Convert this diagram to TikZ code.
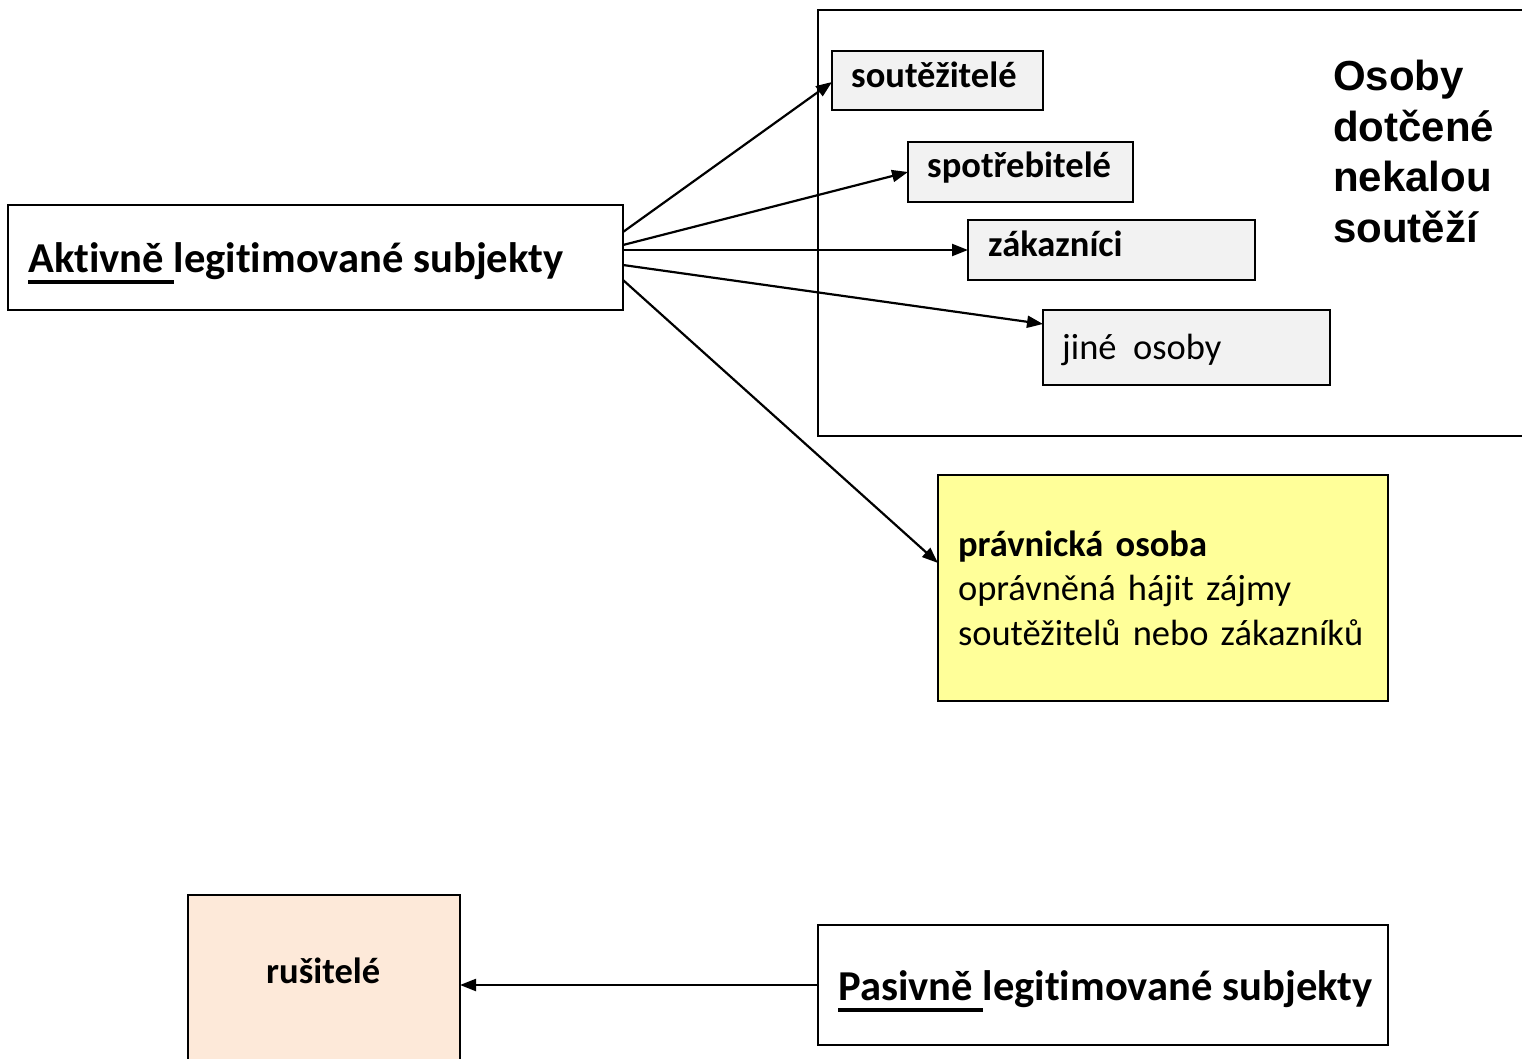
\documentclass[tikz,border=0pt]{standalone}
\usepackage{fontspec}
\setmainfont{Carlito}[Ligatures=NoCommon,RawFeature=-liga]
\newfontfamily\arialf{Liberation Sans}
\usetikzlibrary{arrows.meta,calc}
\newcommand\myul[1]{\setbox0\hbox{#1}\rlap{\rule[-12pt]{\wd0}{4pt}}\box0}
\definecolor{gb}{HTML}{F2F2F2}
\definecolor{yb}{HTML}{FFFF99}
\definecolor{pb}{HTML}{FDE9D9}
\begin{document}
\begin{tikzpicture}[x=1pt,y=-1pt,
  box/.style={draw, line width=2.2pt, inner sep=0pt, outer sep=0pt},
  txt/.style={anchor=base west, inner sep=0pt, font=\fontsize{36.5}{44.5}\selectfont},
  btxt/.style={txt, font=\fontsize{36.5}{44.5}\selectfont\bfseries},
  bigtxt/.style={anchor=base west, inner sep=0pt, font=\fontsize{42.6}{50}\selectfont\bfseries},
  arr/.style={line width=2.2pt, -{Triangle[length=16pt,width=12pt]}}]
\useasboundingbox (0,0) rectangle (1522,1058);
\fill[white] (0,0) rectangle (1522,1058);
% frame
\node[box, line width=1.6pt, minimum width=712pt, minimum height=426pt] (frame) at (1174,223) {};
% right boxes
\node[box, fill=gb, minimum width=211pt, minimum height=59pt] (sout) at (937.5,80.5) {};
\node[btxt] (souttext) at (851,87) {soutěžitelé};
\node[box, fill=gb, minimum width=225pt, minimum height=60pt] (spot) at (1020.5,172) {};
\node[btxt] (spottext) at (927,177) {spotřebitelé};
\node[box, fill=gb, minimum width=287pt, minimum height=60pt] (zak) at (1111.5,250) {};
\node[btxt] (zaktext) at (988,256) {zákazníci};
\node[box, fill=gb, minimum width=287pt, minimum height=75pt] (jine) at (1186.5,347.5) {};
\node[txt] (jinetext) at (1062,359) {jiné\ \ osoby};
\node[anchor=north west, inner sep=0pt, align=left, font=\fontsize{42}{50.5}\selectfont\arialf\bfseries] (osoby) at (1333,60) {Osoby\\dotčené\\nekalou\\soutěží};
% yellow box
\node[box, fill=yb, minimum width=450pt, minimum height=226pt, text width=410pt, inner xsep=20pt, align=left, font=\fontsize{36.5}{44.5}\selectfont] (prav) at (1163,588) {\textbf{právnická osoba}\\oprávněná hájit zájmy\\soutěžitelů nebo zákazníků};
% left box
\node[box, fill=white, minimum width=615pt, minimum height=105pt] (akt) at (315.5,257.5) {};
\node[bigtxt] (akttext) at (28,272) {\myul{Aktivně\ }legitimované subjekty};
% bottom
\node[box, fill=pb, minimum width=272pt, minimum height=175pt] (rus) at (324,982.5) {};
\node[btxt] (rustext) at (266,983) {rušitelé};
\node[box, fill=white, minimum width=570pt, minimum height=120pt] (pas) at (1103,985) {};
\node[bigtxt] (pastext) at (838,1000) {\myul{Pasivně\ }legitimované subjekty};
% arrows
\draw[arr] ([yshift=25.5pt]akt.east) -- ([yshift=-1.5pt]sout.west);
\draw[arr] ([yshift=12.5pt]akt.east) -- (spot.west);
\draw[arr] ([yshift=7.5pt]akt.east) -- (zak.west);
\draw[arr] ([yshift=-7.5pt]akt.east) -- ([yshift=23.5pt]jine.west);
\draw[arr] ([yshift=-22.5pt]akt.east) -- ([yshift=25pt]prav.west);
\draw[arr] (pas.west) -- (rus.east |- pas.west);
\end{tikzpicture}
\end{document}
